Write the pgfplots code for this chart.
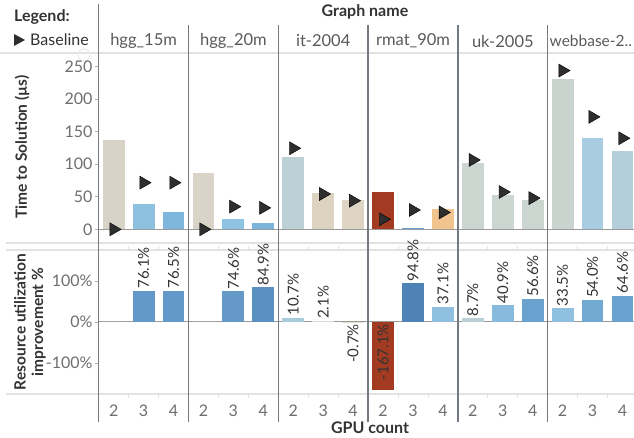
\documentclass[border=0pt]{standalone}
\usepackage{pgfplots}
\pgfplotsset{compat=1.18}
\usepackage{fontspec}
\setmainfont{Lato}
\definecolor{tickgray}{HTML}{6E6E6E}
\definecolor{titlegray}{HTML}{333333}
\definecolor{namegray}{HTML}{595959}
\definecolor{divgray}{HTML}{737A82}
\definecolor{sepgray}{HTML}{E2E2E2}
\definecolor{zerogray}{HTML}{9A9A9A}
\definecolor{trigray}{HTML}{2E2E2E}
% top bar colours
\definecolor{ta}{HTML}{D7D3C6}\definecolor{tb}{HTML}{8EC0E0}\definecolor{tc}{HTML}{7FB6DB}
\definecolor{td}{HTML}{D9D4C7}\definecolor{te}{HTML}{8FC3E3}\definecolor{tf}{HTML}{7CB5DC}
\definecolor{tg}{HTML}{BCD0D6}\definecolor{th}{HTML}{DDD3C1}\definecolor{ti}{HTML}{DDD4C3}
\definecolor{tj}{HTML}{A23B21}\definecolor{tk}{HTML}{6AA0D0}\definecolor{tl}{HTML}{F1C48D}
\definecolor{tm}{HTML}{CCD6D1}\definecolor{tn}{HTML}{CCD6D1}\definecolor{to}{HTML}{CCD6D1}
\definecolor{tp}{HTML}{C9D4CF}\definecolor{tq}{HTML}{A8CCE1}\definecolor{tr}{HTML}{B4CFD9}
% bottom bar colours
\definecolor{ba}{HTML}{E0DCCD}\definecolor{bb}{HTML}{6399C8}\definecolor{bc}{HTML}{6399C8}
\definecolor{bd}{HTML}{E0DCCD}\definecolor{be}{HTML}{6499C8}\definecolor{bf}{HTML}{5B90C2}
\definecolor{bg}{HTML}{A9CADB}\definecolor{bh}{HTML}{D9D9CF}\definecolor{bi}{HTML}{E6DCCB}
\definecolor{bj}{HTML}{A23B21}\definecolor{bk}{HTML}{4F83B6}\definecolor{bl}{HTML}{8FC0E0}
\definecolor{bm}{HTML}{B9D0D7}\definecolor{bn}{HTML}{87BADC}\definecolor{bo}{HTML}{6AA2CF}
\definecolor{bp}{HTML}{8FC0E0}\definecolor{bq}{HTML}{72AAD3}\definecolor{br}{HTML}{6AA2CF}
\newcommand\B[3]{\addplot[ybar,bar width=0.73,bar shift=0pt,fill=#3,draw=none] coordinates {(#1,#2)};}
\newcommand\fs[1]{\fontsize{#1}{#1}\selectfont}
\pgfplotsset{
  panel/.style={scale only axis, width=535.3pt, xmin=-0.5, xmax=17.385,
    clip=false, axis line style={draw=none},
    tick align=outside, ytick pos=left, major tick length=4pt,
    major tick style={draw=gray!60, line width=0.8pt},
    /pgf/number format/assume math mode=true,
    yticklabel style={font=\fs{16}, text=tickgray, inner sep=2pt}},
}
\begin{document}
\begin{tikzpicture}[x=1pt,y=1pt]
\path[use as bounding box] (0,0) rectangle (634,438);
% light horizontal separators
\draw[sepgray, line width=1.5pt] (0,385) -- (634,385);
\draw[sepgray, line width=1.5pt] (6,195) -- (634,195);
\draw[sepgray, line width=1.5pt] (6,188) -- (634,188);
\draw[sepgray, line width=1.5pt] (6,44) -- (634,44);
\draw[sepgray!70, line width=1.2pt] (84,383) circle (6);

% ---------- top panel: time to solution ----------
\begin{axis}[panel, at={(98.7pt,195pt)}, anchor=south west, height=190pt,
  ymin=-21, ymax=271, xtick=\empty, ytick={0,50,100,150,200,250}]
\draw[zerogray, line width=1pt] (axis cs:-0.5,0) -- (axis cs:17.385,0);
\B{0}{137}{ta}\B{1}{39.4}{tb}\B{2}{26.6}{tc}
\B{3}{87}{td}\B{4}{16.3}{te}\B{5}{9.2}{tf}
\B{6}{111.7}{tg}\B{7}{55.4}{th}\B{8}{45}{ti}
\B{9}{57}{tj}\B{10}{2.5}{tk}\B{11}{30.8}{tl}
\B{12}{101.5}{tm}\B{13}{53.3}{tn}\B{14}{45}{to}
\B{15}{230.8}{tp}\B{16}{141}{tq}\B{17}{121}{tr}
\addplot[only marks, mark=triangle*, mark size=7.5pt,
  mark options={rotate=-90, fill=trigray, draw=none}] coordinates {
  (0,0) (1,71.7) (2,71.7)
  (3,0) (4,34.8) (5,33)
  (6,124.6) (7,54.3) (8,44)
  (9,15.4) (10,29.7) (11,26)
  (12,106.6) (13,57.4) (14,48)
  (15,244) (16,172.8) (17,140)};
\end{axis}

% ---------- bottom panel: improvement ----------
\begin{axis}[panel, at={(98.7pt,44pt)}, anchor=south west, height=144pt,
  ymin=-176, ymax=176, ytick={-100,0,100}, yticklabels={-100\%,0\%,100\%},
  xtick={0,...,17}, xticklabels={2,3,4,2,3,4,2,3,4,2,3,4,2,3,4,2,3,4},
  major x tick style={draw=none},
  minor xtick={0.5,1.5,3.5,4.5,6.5,7.5,9.5,10.5,12.5,13.5,15.5,16.5},
  minor x tick style={draw=sepgray, line width=0.8pt}, minor tick length=4pt,
  xticklabel style={font=\fs{16}, text=tickgray, anchor=center, yshift=-13pt}]
\draw[zerogray, line width=1pt] (axis cs:-0.5,0) -- (axis cs:17.385,0);
\B{0}{0}{ba}\B{1}{76.1}{bb}\B{2}{76.5}{bc}
\B{3}{0}{bd}\B{4}{74.6}{be}\B{5}{84.9}{bf}
\B{6}{10.7}{bg}\B{7}{2.1}{bh}\B{8}{-0.7}{bi}
\B{9}{-167.1}{bj}\B{10}{94.8}{bk}\B{11}{37.1}{bl}
\B{12}{8.7}{bm}\B{13}{40.9}{bn}\B{14}{56.6}{bo}
\B{15}{33.5}{bp}\B{16}{54.0}{bq}\B{17}{64.6}{br}
\addplot[draw=none, mark=none, nodes near coords, point meta=explicit symbolic,
  nodes near coords style={rotate=90, anchor=west, font=\fs{15}, text=titlegray, inner sep=2pt}]
  coordinates {(1,76.1)[76.1\%] (2,76.5)[76.5\%] (4,74.6)[74.6\%] (5,84.9)[84.9\%]
  (6,10.7)[10.7\%] (7,2.1)[2.1\%] (10,94.8)[94.8\%] (11,37.1)[37.1\%]
  (12,8.7)[8.7\%] (13,40.9)[40.9\%] (14,56.6)[56.6\%]
  (15,33.5)[33.5\%] (16,54.0)[54.0\%] (17,64.6)[64.6\%]};
\addplot[draw=none, mark=none, nodes near coords, point meta=explicit symbolic,
  nodes near coords style={rotate=90, anchor=east, font=\fs{15}, text=titlegray, inner sep=2pt}]
  coordinates {(8,0)[-0.7\%] (9,0)[-167.1\%]};
\end{axis}

% panel dividers
\draw[divgray, line width=1.3pt] (98.7,434) -- (98.7,16);
\foreach \x in {188.5,278.3,368.1,457.9,547.7} {
  \draw[divgray, line width=1.3pt] (\x,413) -- (\x,16);
}
% header
\node[font=\bfseries\fs{16}, text=titlegray] at (365,426) {Graph name};
\foreach \x/\n in {143.6/hgg\_15m, 233.4/hgg\_20m, 323.2/it-2004, 413/rmat\_90m, 502.8/uk-2005} {
  \node[font=\fs{16.5}, text=namegray] at (\x,397) {\n};
}
\node[font=\fs{15.5}, text=namegray, anchor=west, inner sep=0pt] at (549.5,397) {webbase-2..};
% legend
\node[font=\bfseries\fs{16}, text=titlegray, anchor=west, inner sep=0pt] at (14,421) {Legend:};
\fill[trigray] (14,404) -- (25,398) -- (14,392) -- cycle;
\node[font=\fs{16}, text=titlegray, anchor=west, inner sep=0pt] at (30,398) {Baseline};
% axis titles
\node[font=\bfseries\fs{15.5}, text=titlegray, rotate=90] at (22,291) {Time to Solution (µs)};
\node[font=\bfseries\fs{15.5}, text=titlegray, rotate=90, align=center] at (30,116)
  {Resource utilization\\[2pt] improvement \%};
\node[font=\bfseries\fs{16}, text=titlegray] at (370,10) {GPU count};
\end{tikzpicture}
\end{document}
